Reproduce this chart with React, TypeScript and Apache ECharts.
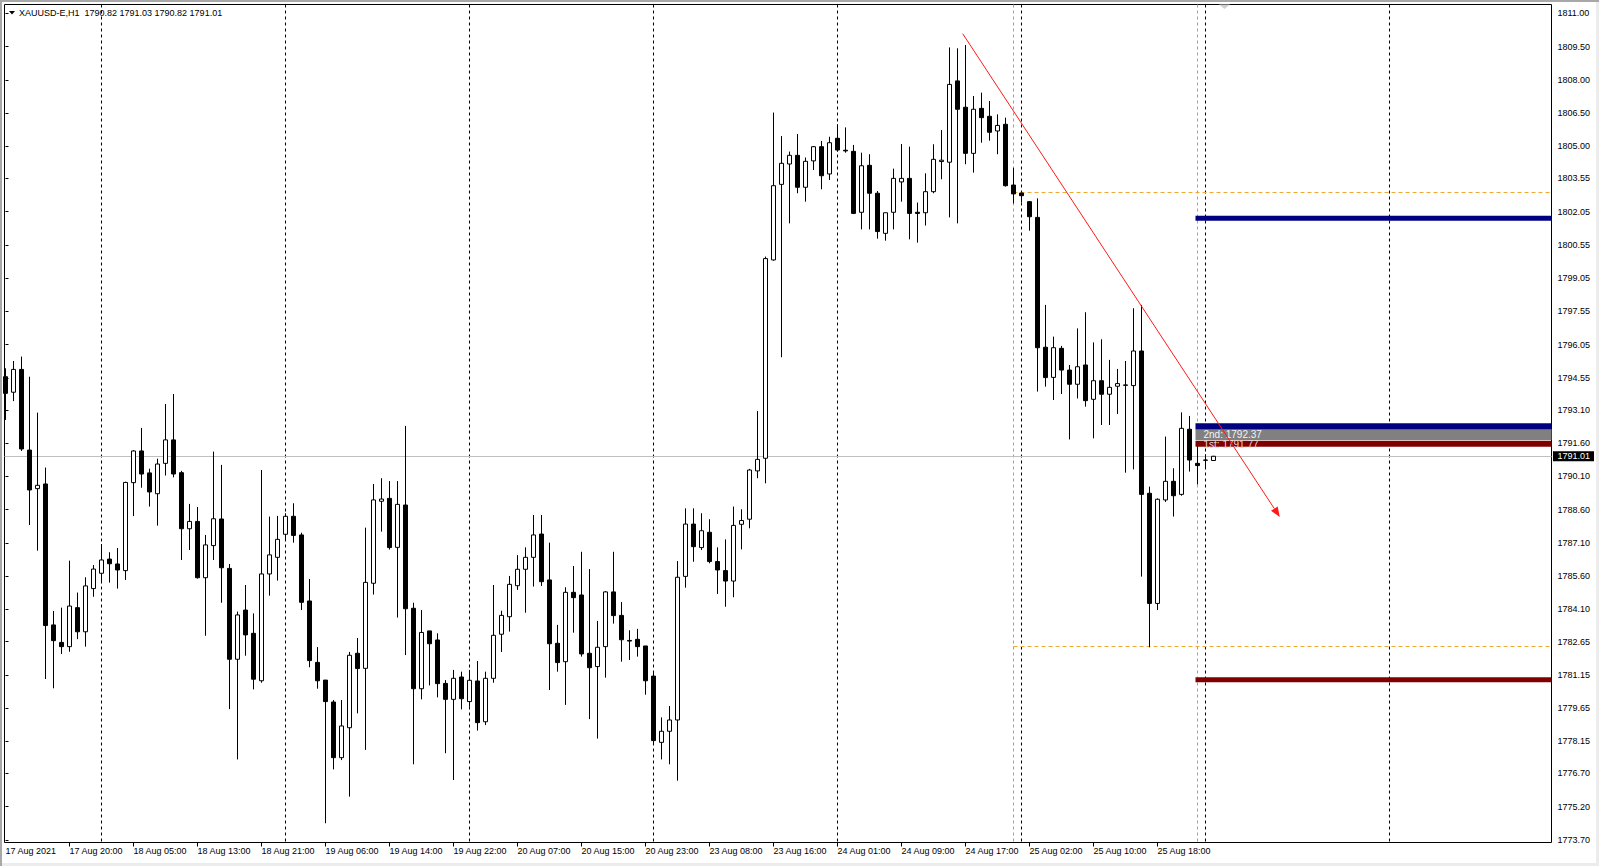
import React, { useEffect, useRef } from "react";
import * as echarts from "echarts";

// ---------- data ----------
const symbolName = "XAUUSD-E,H1";

// hourly bars, index 0 = 17 Aug 2021 12:00
const opens = [
  1794.6, 1793.9, 1794.93, 1791.29, 1789.55, 1789.76, 1783.4, 1782.61, 1782.42, 1784.18,
  1783.09, 1785.04, 1785.73, 1786.37, 1786.15, 1785.85, 1789.82, 1791.25, 1790.26, 1789.32,
  1790.69, 1791.75, 1790.27, 1787.74, 1788.07, 1785.53, 1786.98, 1788.18, 1785.95, 1781.85,
  1784.07, 1783.02, 1780.88, 1785.7, 1786.45, 1787.49, 1788.3, 1787.46, 1784.48, 1781.71,
  1780.91, 1779.92, 1777.41, 1778.76, 1782.12, 1781.44, 1785.28, 1788.98, 1789.11, 1786.9,
  1788.81, 1784.15, 1780.52, 1783.13, 1782.72, 1780.76, 1780.04, 1781.05, 1779.94, 1780.87,
  1779.03, 1780.99, 1782.98, 1783.77, 1785.17, 1785.91, 1786.45, 1787.5, 1785.43, 1782.57,
  1781.74, 1784.87, 1784.75, 1782.12, 1781.52, 1782.42, 1784.89, 1783.83, 1782.7, 1782.75,
  1782.45, 1781.09, 1778.1, 1778.6, 1779.11, 1785.59, 1787.95, 1786.89, 1787.58, 1786.26,
  1785.85, 1785.38, 1787.94, 1788.17, 1790.35, 1790.92, 1799.87, 1803.28, 1804.2, 1804.59,
  1803.15, 1804.34, 1804.98, 1803.75, 1805.36, 1804.82, 1804.77, 1802.02, 1804.14, 1802.88,
  1801.07, 1802.02, 1803.39, 1803.55, 1802.02, 1802.0, 1802.95, 1804.31, 1804.28, 1807.95,
  1806.76, 1804.68, 1806.71, 1806.35, 1805.69, 1805.99, 1803.25, 1802.89, 1802.5, 1801.79,
  1795.93, 1794.57, 1795.88, 1794.9, 1794.26, 1795.13, 1793.58, 1794.42, 1793.81, 1794.17,
  1794.21, 1794.2, 1795.76, 1789.34, 1784.37, 1789.04, 1789.88, 1789.29, 1792.23, 1790.69,
  1790.84, 1790.82,
];
const highs = [
  1794.98, 1795.31, 1795.51, 1794.6, 1792.98, 1790.5, 1784.03, 1784.18, 1786.3, 1784.86,
  1785.55, 1786.1, 1787.05, 1786.68, 1786.87, 1789.86, 1791.29, 1792.29, 1790.45, 1790.9,
  1793.37, 1793.82, 1790.35, 1788.86, 1788.72, 1787.46, 1791.22, 1790.62, 1786.15, 1784.0,
  1785.2, 1783.92, 1790.39, 1788.29, 1788.32, 1788.44, 1788.89, 1787.56, 1785.47, 1782.4,
  1780.91, 1780.01, 1780.01, 1782.18, 1782.81, 1787.79, 1789.76, 1790.02, 1789.89, 1789.89,
  1792.38, 1784.4, 1784.07, 1783.13, 1783.02, 1780.91, 1781.37, 1781.29, 1781.37, 1781.77,
  1781.29, 1785.2, 1784.04, 1785.61, 1786.55, 1786.9, 1788.36, 1788.36, 1787.11, 1783.4,
  1785.1, 1786.06, 1786.7, 1785.92, 1783.58, 1784.93, 1786.7, 1784.43, 1783.16, 1783.22,
  1782.45, 1781.3, 1779.23, 1779.74, 1786.28, 1788.66, 1788.66, 1788.44, 1788.17, 1786.9,
  1787.26, 1788.74, 1788.62, 1790.44, 1793.05, 1800.02, 1806.52, 1805.46, 1804.76, 1805.55,
  1804.49, 1805.01, 1805.24, 1805.43, 1805.99, 1805.85, 1805.06, 1804.71, 1804.64, 1802.98,
  1802.0, 1803.99, 1805.1, 1804.98, 1802.46, 1803.78, 1805.09, 1805.73, 1809.46, 1809.42,
  1809.57, 1807.27, 1807.42, 1807.04, 1806.44, 1806.29, 1804.03, 1802.92, 1802.53, 1802.65,
  1797.84, 1796.41, 1795.99, 1795.13, 1796.78, 1797.51, 1796.15, 1796.29, 1795.36, 1794.95,
  1795.31, 1797.69, 1797.84, 1789.64, 1789.11, 1791.9, 1790.47, 1792.99, 1792.83, 1791.6,
  1791.1, 1791.03,
];
const lows = [
  1792.65, 1793.5, 1791.25, 1787.91, 1786.75, 1780.96, 1780.54, 1782.09, 1782.19, 1782.76,
  1782.42, 1784.67, 1785.31, 1785.31, 1785.04, 1785.43, 1788.31, 1789.59, 1788.74, 1787.88,
  1790.14, 1790.06, 1786.33, 1786.78, 1785.49, 1782.91, 1786.33, 1784.4, 1779.6, 1777.33,
  1782.01, 1780.49, 1780.79, 1784.72, 1785.4, 1787.23, 1787.11, 1784.07, 1781.49, 1780.52,
  1774.45, 1776.88, 1777.3, 1775.65, 1779.41, 1777.76, 1784.77, 1787.61, 1786.8, 1783.73,
  1782.04, 1777.11, 1780.04, 1780.67, 1780.13, 1777.61, 1776.4, 1779.59, 1779.71, 1778.63,
  1778.88, 1780.79, 1782.18, 1783.1, 1784.98, 1783.95, 1785.13, 1785.16, 1780.46, 1781.29,
  1779.79, 1783.05, 1781.97, 1779.15, 1778.27, 1781.02, 1783.46, 1781.74, 1781.82, 1781.97,
  1780.25, 1778.0, 1777.33, 1777.11, 1776.37, 1785.08, 1786.25, 1786.78, 1786.18, 1784.8,
  1784.22, 1784.65, 1786.81, 1787.76, 1790.02, 1789.79, 1799.84, 1795.48, 1801.52, 1802.88,
  1802.5, 1803.93, 1803.06, 1803.48, 1804.76, 1804.71, 1801.94, 1801.25, 1801.25, 1800.83,
  1800.74, 1801.25, 1802.5, 1800.8, 1800.65, 1801.42, 1802.88, 1803.51, 1801.79, 1801.52,
  1804.19, 1803.81, 1805.16, 1805.25, 1804.64, 1803.18, 1802.42, 1802.47, 1801.19, 1793.93,
  1794.15, 1793.55, 1793.82, 1791.77, 1793.62, 1793.25, 1791.82, 1792.42, 1792.42, 1792.92,
  1790.27, 1790.42, 1785.58, 1782.39, 1784.07, 1788.95, 1788.29, 1789.23, 1790.32, 1789.74,
  1790.5, 1790.82,
];
const closes = [
  1793.85, 1794.93, 1791.34, 1789.49, 1789.7, 1783.37, 1782.69, 1782.42, 1784.25, 1783.09,
  1785.16, 1785.92, 1786.33, 1786.16, 1785.88, 1789.83, 1791.25, 1790.21, 1789.4, 1790.66,
  1791.75, 1790.21, 1787.74, 1788.07, 1785.53, 1787.01, 1788.19, 1785.98, 1781.85, 1783.85,
  1782.95, 1780.95, 1785.7, 1786.56, 1787.26, 1788.3, 1787.44, 1784.42, 1781.79, 1780.88,
  1779.94, 1777.41, 1778.84, 1782.03, 1781.43, 1785.32, 1789.04, 1789.08, 1786.89, 1788.84,
  1784.13, 1780.52, 1783.06, 1782.55, 1780.75, 1780.04, 1780.99, 1780.07, 1780.9, 1778.99,
  1780.99, 1782.93, 1783.83, 1785.23, 1785.91, 1786.45, 1787.46, 1785.35, 1782.55, 1781.7,
  1784.87, 1784.63, 1782.09, 1781.47, 1782.39, 1784.89, 1783.82, 1782.73, 1782.67, 1782.42,
  1780.88, 1778.18, 1778.6, 1779.11, 1785.55, 1787.95, 1786.93, 1787.65, 1786.26, 1785.88,
  1785.38, 1787.89, 1788.11, 1790.39, 1790.87, 1799.93, 1803.22, 1804.23, 1804.59, 1803.15,
  1804.32, 1804.98, 1803.67, 1805.16, 1804.83, 1804.79, 1801.97, 1804.12, 1802.88, 1801.15,
  1802.0, 1803.55, 1803.55, 1801.97, 1801.97, 1802.95, 1804.41, 1804.37, 1807.79, 1806.67,
  1804.68, 1806.67, 1806.29, 1805.63, 1805.94, 1803.22, 1802.85, 1802.77, 1801.82, 1795.91,
  1794.56, 1795.91, 1794.9, 1794.26, 1795.05, 1793.52, 1794.42, 1793.81, 1794.12, 1794.29,
  1794.23, 1795.76, 1789.29, 1784.37, 1789.07, 1789.88, 1789.23, 1792.27, 1790.84, 1790.59,
  1790.83, 1791.01,
];

const xLabelBars = [0, 8, 16, 24, 32, 40, 48, 56, 64, 72, 80, 88, 96, 104, 112, 120, 128, 136, 144];
const xLabels = [
  "17 Aug 2021", "17 Aug 20:00", "18 Aug 05:00", "18 Aug 13:00", "18 Aug 21:00",
  "19 Aug 06:00", "19 Aug 14:00", "19 Aug 22:00", "20 Aug 07:00", "20 Aug 15:00",
  "20 Aug 23:00", "23 Aug 08:00", "23 Aug 16:00", "24 Aug 01:00", "24 Aug 09:00",
  "24 Aug 17:00", "25 Aug 02:00", "25 Aug 10:00", "25 Aug 18:00",
];
const yTickLabels = [
  "1811.00", "1809.50", "1808.00", "1806.50", "1805.00", "1803.55", "1802.05", "1800.55",
  "1799.05", "1797.55", "1796.05", "1794.55", "1793.10", "1791.60", "1790.10", "1788.60",
  "1787.10", "1785.60", "1784.10", "1782.65", "1781.15", "1779.65", "1778.15", "1776.70",
  "1775.20", "1773.70",
];

const daySeparatorBars = [12, 35, 58, 81, 104, 127, 150, 173];
const objectVLineBars = [126, 149];
const sessionLevelStart = [126, 126];
const sessionLevelPrices = [1802.92, 1782.42];
const tradeLevelStart = [148.75, 148.75, 148.75, 148.75];
const tradeLevelPrices = [1801.75, 1792.37, 1791.58, 1780.93];
const tradeBandPrices = [1792.24, 1791.74];
const tradeTextPrices = [1792.0, 1791.56];
const tradeTexts = ["2nd: 1792.37", "1st: 1791.77"];
const trendLine = [119.65, 1810.08, 159.29, 1788.27];

// ---------- layout constants ----------
const X_MIN = -0.125;
const X_MAX = 193.25;
const P_MIN = 1773.581;
const P_MAX = 1811.397;
const FONT = "'Liberation Sans', Arial, sans-serif";

const levelColors = ["#000080", "#000080", "#800000", "#800000"];
const levelWidths = [5, 6, 6, 5];

export default function App() {
  const ref = useRef<HTMLDivElement>(null);

  useEffect(() => {
    if (!ref.current) return;
    const chart = echarts.init(ref.current, undefined, { renderer: "svg" });
    const candles = opens.map((o, i) => [i, o, closes[i], lows[i], highs[i]]);
    const last = opens.length - 1;
    const header = `${symbolName}  ${opens[last].toFixed(2)} ${highs[last].toFixed(2)} ${lows[last].toFixed(2)} ${closes[last].toFixed(2)}`;
    const yTickValues = yTickLabels.map(Number);

    const crisp = (v: number) => Math.round(v - 0.5) + 0.5;

    const vLines = (bars: number[], color: string, z: number) => ({
      type: "custom",
      z,
      silent: true,
      data: bars.map((b) => [b, P_MAX]),
      renderItem: (params: any, api: any) => {
        const cs = params.coordSys;
        const x = crisp(api.coord([api.value(0), api.value(1)])[0]);
        return {
          type: "line",
          shape: { x1: x, y1: cs.y, x2: x, y2: cs.y + cs.height },
          style: { stroke: color, lineWidth: 1, lineDash: [3, 3] },
        };
      },
    });

    const option: any = {
      animation: false,
      title: {
        text: header,
        left: 19,
        top: 8,
        padding: 0,
        textStyle: { fontSize: 9, fontWeight: "normal", fontFamily: FONT, color: "#000", lineHeight: 10 },
      },
      graphic: [
        { type: "polygon", shape: { points: [[9, 11], [15, 11], [12, 14.5]] }, style: { fill: "#000" } },
        { type: "polygon", shape: { points: [[1219, 4.5], [1230, 4.5], [1224.5, 9]] }, style: { fill: "#d0d0d0" } },
      ],
      grid: {
        left: 4.5,
        top: 4.5,
        right: 47.5,
        bottom: 23.5,
        show: true,
        borderColor: "#000",
        borderWidth: 1,
        backgroundColor: "#fff",
      },
      xAxis: {
        type: "value",
        min: X_MIN,
        max: X_MAX,
        axisLine: { show: false },
        splitLine: { show: false },
        axisTick: {
          show: true,
          customValues: xLabelBars.slice(1),
          length: 4,
          lineStyle: { color: "#000" },
        },
        axisLabel: {
          customValues: xLabelBars,
          formatter: (v: number) => {
            const i = xLabelBars.indexOf(Math.round(v));
            return i >= 0 ? xLabels[i] : "";
          },
          align: "left",
          margin: 4,
          fontSize: 9,
          fontFamily: FONT,
          color: "#000",
        },
      },
      yAxis: {
        type: "value",
        position: "right",
        min: P_MIN,
        max: P_MAX,
        axisLine: { show: false },
        splitLine: { show: false },
        axisTick: {
          show: true,
          customValues: yTickValues,
          length: 3,
          lineStyle: { color: "#000" },
        },
        axisLabel: {
          customValues: yTickValues,
          formatter: (v: number) => v.toFixed(2),
          margin: 6,
          fontSize: 9,
          fontFamily: FONT,
          color: "#000",
        },
      },
      series: [
        vLines(daySeparatorBars, "#000", 1),
        vLines(objectVLineBars, "#a0a0a0", 1),
        {
          type: "custom",
          z: 1,
          silent: true,
          data: [[0, closes[last]]],
          renderItem: (params: any, api: any) => {
            const cs = params.coordSys;
            const y = api.coord([api.value(0), api.value(1)])[1];
            const yy = crisp(y);
            const right = cs.x + cs.width;
            return {
              type: "group",
              children: [
                { type: "line", shape: { x1: cs.x, y1: yy, x2: right, y2: yy }, style: { stroke: "#c0c0c0", lineWidth: 1 } },
                { type: "rect", shape: { x: right + 1.5, y: y - 5, width: 41, height: 10 }, style: { fill: "#000" } },
                {
                  type: "text",
                  style: {
                    x: right + 6,
                    y: y,
                    text: api.value(1).toFixed(2),
                    fill: "#fff",
                    fontSize: 9,
                    fontFamily: FONT,
                    align: "left",
                    verticalAlign: "middle",
                  },
                },
              ],
            };
          },
        },
        {
          type: "custom",
          z: 1,
          silent: true,
          data: sessionLevelPrices.map((p, i) => [sessionLevelStart[i], p]),
          renderItem: (params: any, api: any) => {
            const cs = params.coordSys;
            const [x, y] = api.coord([api.value(0), api.value(1)]);
            const yy = crisp(y);
            return {
              type: "line",
              shape: { x1: x, y1: yy, x2: cs.x + cs.width, y2: yy },
              style: { stroke: "#eeaa33", lineWidth: 1, lineDash: [4, 3] },
            };
          },
        },
        {
          type: "candlestick",
          z: 2,
          silent: true,
          data: candles,
          encode: { x: 0, y: [1, 2, 3, 4] },
          barWidth: 4,
          itemStyle: {
            color: "#fff",
            color0: "#000",
            borderColor: "#000",
            borderColor0: "#000",
            borderColorDoji: "#000",
            borderWidth: 1,
          },
        },
        {
          type: "custom",
          z: 3,
          silent: true,
          data: [[tradeLevelStart[0], tradeBandPrices[0], tradeBandPrices[1]]],
          renderItem: (params: any, api: any) => {
            const cs = params.coordSys;
            const [x, y1] = api.coord([api.value(0), api.value(1)]);
            const y2 = api.coord([api.value(0), api.value(2)])[1];
            return {
              type: "rect",
              shape: { x, y: y1, width: cs.x + cs.width - x, height: y2 - y1 },
              style: { fill: "#808080" },
            };
          },
        },
        {
          type: "custom",
          z: 3,
          silent: true,
          data: tradeLevelPrices.map((p, i) => [tradeLevelStart[i], p]),
          renderItem: (params: any, api: any) => {
            const cs = params.coordSys;
            const [x, y] = api.coord([api.value(0), api.value(1)]);
            const w = levelWidths[params.dataIndex];
            return {
              type: "rect",
              shape: { x, y: y - w / 2, width: cs.x + cs.width - x, height: w },
              style: { fill: levelColors[params.dataIndex] },
            };
          },
        },
        {
          type: "custom",
          z: 4,
          silent: true,
          data: tradeTextPrices.map((p) => [tradeLevelStart[0], p]),
          renderItem: (params: any, api: any) => {
            const [x, y] = api.coord([api.value(0), api.value(1)]);
            return {
              type: "text",
              style: {
                x: x + 8,
                y,
                text: tradeTexts[params.dataIndex],
                fill: params.dataIndex === 0 ? "#f4f4f4" : "#ead6d6",
                fontSize: 10,
                fontFamily: FONT,
                align: "left",
                verticalAlign: "middle",
              },
            };
          },
        },
        {
          type: "custom",
          z: 5,
          silent: true,
          data: [trendLine],
          renderItem: (params: any, api: any) => {
            const p1 = api.coord([api.value(0), api.value(1)]);
            const p2 = api.coord([api.value(2), api.value(3)]);
            const a = Math.atan2(p2[1] - p1[1], p2[0] - p1[0]);
            const L = 10;
            const W = 4;
            const c = Math.cos(a);
            const s = Math.sin(a);
            const bx = p2[0] - L * c;
            const by = p2[1] - L * s;
            return {
              type: "group",
              children: [
                { type: "line", shape: { x1: p1[0], y1: p1[1], x2: bx, y2: by }, style: { stroke: "#ff1a1a", lineWidth: 1 } },
                {
                  type: "polygon",
                  shape: { points: [p2, [bx + W * s, by - W * c], [bx - W * s, by + W * c]] },
                  style: { fill: "#ff1a1a" },
                },
              ],
            };
          },
        },
      ],
    };
    chart.setOption(option);
    return () => chart.dispose();
  }, []);

  return (
    <div
      style={{
        position: "fixed",
        left: 0,
        top: 0,
        width: 1599,
        height: 866,
        background: "#fff",
        boxShadow: "inset 2px 2px 0 #a8a8a8, inset -3px -3px 0 #ececec",
      }}
    >
      <div ref={ref} style={{ width: 1599, height: 866 }} />
    </div>
  );
}
